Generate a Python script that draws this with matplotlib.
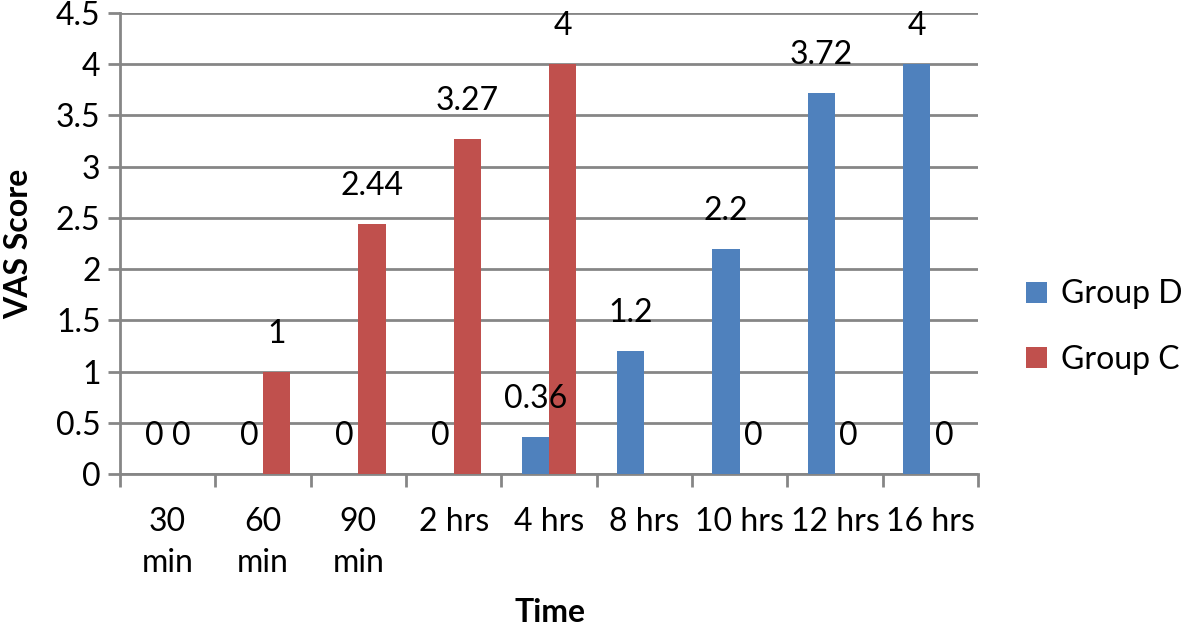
import matplotlib
matplotlib.use("Agg")
import matplotlib.pyplot as plt
import numpy as np

categories = ["30\nmin", "60\nmin", "90\nmin", "2 hrs", "4 hrs", "8 hrs", "10 hrs", "12 hrs", "16 hrs"]
group_d = [0, 0, 0, 0, 0.36, 1.2, 2.2, 3.72, 4]
group_c = [0, 1, 2.44, 3.27, 4, None, 0, 0, 0]
series_names = ["Group D", "Group C"]
colors = ["#4F81BD", "#C0504D"]

plt.rcParams['font.family'] = ['Lato', 'DejaVu Sans']
FS = 23
fig = plt.figure(figsize=(11.81, 6.26), dpi=100)
ax = fig.add_axes([120/1181, 1-474/626, (978-120)/1181, (474-13)/626])

n = len(categories)
x = np.arange(n)
bw = 1/3.5
grid_c = "#868686"

for i, (vals, name, col) in enumerate(zip([group_d, group_c], series_names, colors)):
    xs = x + (i - 0.5) * bw
    hv = [v if v is not None else 0 for v in vals]
    ax.bar(xs, hv, width=bw, color=col, label=name, zorder=3)
    for xi, v in zip(xs, vals):
        if v is None:
            continue
        ax.annotate(f"{v:g}", (xi, v), xytext=(0, 38), textcoords='offset pixels',
                    ha='center', va='center', fontsize=FS, zorder=4)

ax.set_xlim(-0.5, n - 0.5)
ax.set_ylim(0, 4.5)
ax.set_yticks(np.arange(0, 4.51, 0.5))
ax.set_yticklabels([f"{v:g}" for v in np.arange(0, 4.51, 0.5)], fontsize=FS)
ax.yaxis.grid(True, color=grid_c, linewidth=2, zorder=0)
ax.tick_params(axis='y', length=9, width=2, color=grid_c, pad=5)

ax.set_xticks(x)
ax.set_xticklabels(categories, fontsize=FS, linespacing=1.45)
ax.set_xticks(np.arange(-0.5, n, 1), minor=True)
ax.tick_params(axis='x', which='major', length=0, pad=24)
ax.tick_params(axis='x', which='minor', length=9, width=2, color=grid_c)

for s in ['top', 'right']:
    ax.spines[s].set_visible(False)
for s in ['left', 'bottom']:
    ax.spines[s].set_color(grid_c)
    ax.spines[s].set_linewidth(2)

ax.set_ylabel("VAS Score", fontsize=FS, fontweight='bold', labelpad=16)
fig.text(550/1181, 1-613/626, "Time", fontsize=FS, fontweight='bold', ha='center', va='center')

fig.legend(loc='center left', bbox_to_anchor=(1026/1181, 1-327/626), frameon=False,
           fontsize=FS, handlelength=0.65, handleheight=0.65, labelspacing=1.1, handletextpad=0.45,
           borderaxespad=0, borderpad=0)

fig.savefig("out.png", dpi=100)
